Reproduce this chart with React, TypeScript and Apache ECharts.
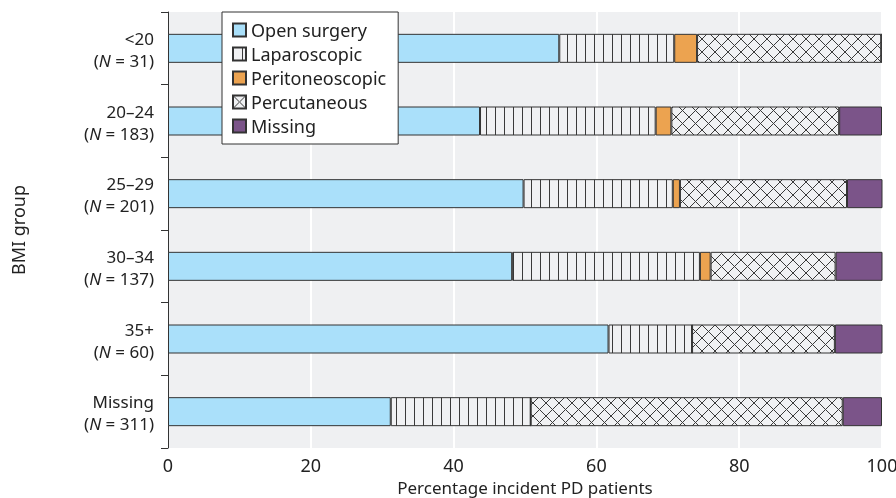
import React, { useEffect, useRef } from "react";
import * as echarts from "echarts";

const groups = ["<20", "20–24", "25–29", "30–34", "35+", "Missing"];
const groupN = [31, 183, 201, 137, 60, 311];
const seriesNames = ["Open surgery", "Laparoscopic", "Peritoneoscopic", "Percutaneous", "Missing"];
const openSurgery = [54.8, 43.7, 49.8, 48.2, 61.7, 31.2];
const laparoscopic = [16.1, 24.6, 20.9, 26.3, 11.7, 19.6];
const peritoneoscopic = [3.2, 2.2, 1.0, 1.5, 0, 0];
const percutaneous = [25.8, 23.5, 23.4, 17.5, 20.0, 43.7];
const missing = [0, 6.0, 5.0, 6.6, 6.7, 5.5];
const xTicks = [0, 20, 40, 60, 80, 100];

const FONT = "Noto Sans";
const FS = 18;

function makePattern(kind: "vert" | "cross") {
  const size = kind === "vert" ? 9 : 13;
  const c = document.createElement("canvas");
  c.width = size;
  c.height = size;
  const ctx = c.getContext("2d")!;
  ctx.fillStyle = "#f0f1f3";
  ctx.fillRect(0, 0, size, size);
  ctx.strokeStyle = "#3a3a3a";
  ctx.lineWidth = 1;
  ctx.beginPath();
  if (kind === "vert") {
    ctx.moveTo(0.5, 0);
    ctx.lineTo(0.5, size);
  } else {
    ctx.moveTo(0, 0);
    ctx.lineTo(size, size);
    ctx.moveTo(size, 0);
    ctx.lineTo(0, size);
  }
  ctx.stroke();
  return { image: c, repeat: "repeat", imageWidth: size, imageHeight: size } as any;
}

export default function App() {
  const ref = useRef<HTMLDivElement>(null);
  useEffect(() => {
    if (!ref.current) return;
    const chart = echarts.init(ref.current, null, { renderer: "svg" });
    const vert = makePattern("vert");
    const cross = makePattern("cross");
    const fills: any[] = ["#aae0fa", vert, "#eca350", cross, "#7b5489"];
    const values = [openSurgery, laparoscopic, peritoneoscopic, percutaneous, missing];
    chart.setOption({
      animation: false,
      textStyle: { fontFamily: FONT },
      grid: {
        left: 168,
        right: 14,
        top: 12,
        bottom: 50,
        show: true,
        backgroundColor: "#eff0f2",
        borderWidth: 0,
        containLabel: false,
        outerBoundsMode: "none",
      },
      legend: {
        orient: "vertical",
        left: 222,
        top: 12,
        data: seriesNames,
        backgroundColor: "#ffffff",
        borderColor: "#333",
        borderWidth: 1,
        borderRadius: 0,
        padding: [9, 12, 9, 10],
        itemWidth: 13,
        itemHeight: 13,
        itemGap: 6,
        icon: "rect",
        textStyle: { fontFamily: FONT, fontSize: FS, color: "#222" },
      },
      xAxis: {
        type: "value",
        min: 0,
        max: 100,
        interval: 20,
        axisLine: { show: false },
        axisTick: { show: false },
        axisLabel: {
          fontSize: FS,
          color: "#222",
          margin: 8,
          formatter: (v: number) => (xTicks.includes(v) ? String(v) : ""),
        },
        splitLine: { show: true, lineStyle: { color: "#ffffff", width: 2 } },
        name: "Percentage incident PD patients",
        nameLocation: "middle",
        nameGap: 28,
        nameTextStyle: { fontSize: 17, color: "#222", fontFamily: FONT },
      },
      yAxis: {
        type: "category",
        inverse: true,
        data: groups,
        axisLine: { show: true, lineStyle: { color: "#333", width: 1 } },
        axisTick: { show: true, length: 7, lineStyle: { color: "#333" } },
        splitLine: { show: false },
        axisLabel: {
          margin: 14,
          align: "right",
          padding: [2, 0, 0, 0],
          formatter: (v: string, i: number) =>
            `{n|${v}}\n{n|(}{i|N}{n| = ${groupN[i]})}`,
          rich: {
            n: { fontSize: 17, color: "#222", lineHeight: 22, fontFamily: FONT },
            i: { fontSize: 17, color: "#222", lineHeight: 22, fontStyle: "italic", fontFamily: FONT },
          },
        },
        name: "BMI group",
        nameLocation: "middle",
        nameGap: 141,
        nameRotate: 90,
        nameTextStyle: { fontSize: FS, color: "#222", fontFamily: FONT },
      },
      series: seriesNames.map((name, k) => ({
        name,
        type: "bar",
        stack: "total",
        barWidth: 29,
        data: values[k],
        itemStyle: { color: fills[k], borderColor: "#333", borderWidth: 1 },
        emphasis: { disabled: true },
      })),
    });
    return () => chart.dispose();
  }, []);
  return (
    <div
      ref={ref}
      style={{ position: "fixed", left: 0, top: 0, width: 896, height: 498 }}
    />
  );
}
